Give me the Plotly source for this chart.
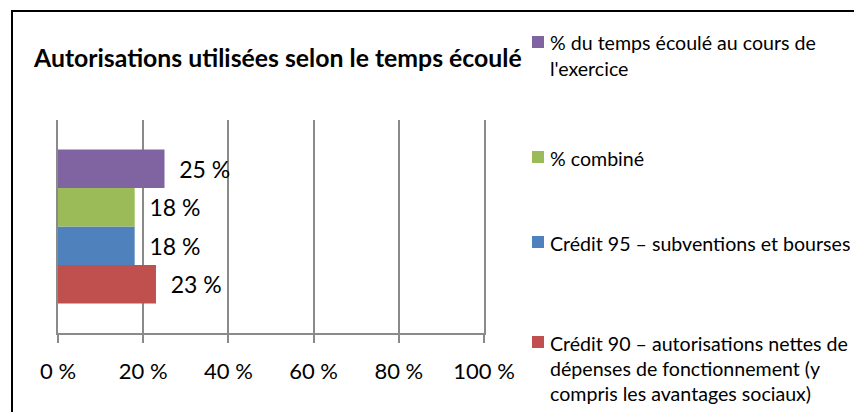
import plotly.graph_objects as go

# Data (bottom to top as drawn)
series_names = [
    "Crédit 90 – autorisations nettes de<br>dépenses de fonctionnement (y<br>compris les avantages sociaux)",
    "Crédit 95 – subventions et bourses",
    "% combiné",
    "% du temps écoulé au cours de<br>l'exercice",
]
series_values = [23, 18, 18, 25]
series_colors = ["#C0504D", "#4F81BD", "#9BBB59", "#8064A2"]
category = [""]
tick_values = [0, 20, 40, 60, 80, 100]
tick_labels = [f"{v} %" for v in tick_values]
title_text = "Autorisations utilisées selon le temps écoulé"

FONT = "Lato, 'Open Sans', sans-serif"

# page offset of the figure inside the browser page (default body margin)
OFF = 8
W, H = 862, 412
# plot area in screen pixels: x 58..484, y 120..333
L = 58 - OFF
T = 120 - OFF
R = W - (484 - OFF)
B = H - (333 - OFF)
pw, ph = W - L - R, H - T - B


def px_x(sx):
    return (sx - OFF - L) / pw


def px_y(sy):
    return (H - B - (sy - OFF)) / ph


fig = go.Figure()
for name, val, col in zip(series_names, series_values, series_colors):
    fig.add_trace(go.Bar(
        y=category, x=[val], name=name, orientation="h",
        marker=dict(color=col, line=dict(width=0)),
        text=[f"{val} %"], texttemplate="\u00a0\u00a0%{text}",
        textposition="outside", cliponaxis=False,
        textfont=dict(family=FONT, size=23, color="#000000"),
        showlegend=False,
    ))

# Custom legend (Excel-like spacing): first-line centre y of each entry
legend_first_line_y = [343, 243, 158, 43]  # same order as series lists
LINE_H = 25
annotations = []
shapes = []
for name, col, y0 in zip(series_names, series_colors, legend_first_line_y):
    for i, line in enumerate(name.split("<br>")):
        annotations.append(dict(
            x=px_x(548), y=px_y(y0 + i * LINE_H), xref="paper", yref="paper",
            text=line, showarrow=False, xanchor="left", yanchor="middle",
            font=dict(family=FONT, size=19.6, color="#000000")))
    shapes.append(dict(type="rect", xref="paper", yref="paper",
                       x0=px_x(532), x1=px_x(544),
                       y0=px_y(y0 + 5), y1=px_y(y0 - 7),
                       fillcolor=col, line=dict(width=0)))

# outer chart frame
shapes.append(dict(type="rect", xref="paper", yref="paper",
                   x0=px_x(12), x1=px_x(W + 30),
                   y0=px_y(H + 30), y1=px_y(11),
                   line=dict(color="#000000", width=2), fillcolor="rgba(0,0,0,0)",
                   layer="below"))

fig.update_layout(
    width=W, height=H,
    margin=dict(l=L, r=R, t=T, b=B, autoexpand=False),
    paper_bgcolor="white", plot_bgcolor="white",
    barmode="group", bargap=0.277, bargroupgap=0,
    font=dict(family=FONT, color="#000000"),
    title=dict(text="<b>" + title_text + "</b>", x=(34 - OFF) / W, xref="container",
               xanchor="left", y=1 - (58 - OFF) / H, yref="container", yanchor="middle",
               font=dict(family=FONT, size=24.8, color="#000000")),
    showlegend=False,
    xaxis=dict(range=[0, 100], tickmode="array", tickvals=tick_values, ticktext=tick_labels,
               showgrid=True, gridcolor="#8a8a8a", gridwidth=1.5,
               zeroline=False, showline=True, linecolor="#8a8a8a", linewidth=1.5,
               ticks="outside", ticklen=8, tickcolor="#8a8a8a", tickwidth=1.5,
               ticklabelstandoff=10,
               tickfont=dict(family=FONT, size=22, color="#000000"),
               fixedrange=True),
    yaxis=dict(showticklabels=False, showgrid=False, zeroline=False,
               showline=True, mirror=True, linecolor="#8a8a8a", linewidth=1.5,
               ticks="", fixedrange=True),
    annotations=annotations,
    shapes=shapes,
)

fig.write_html("out.html")
